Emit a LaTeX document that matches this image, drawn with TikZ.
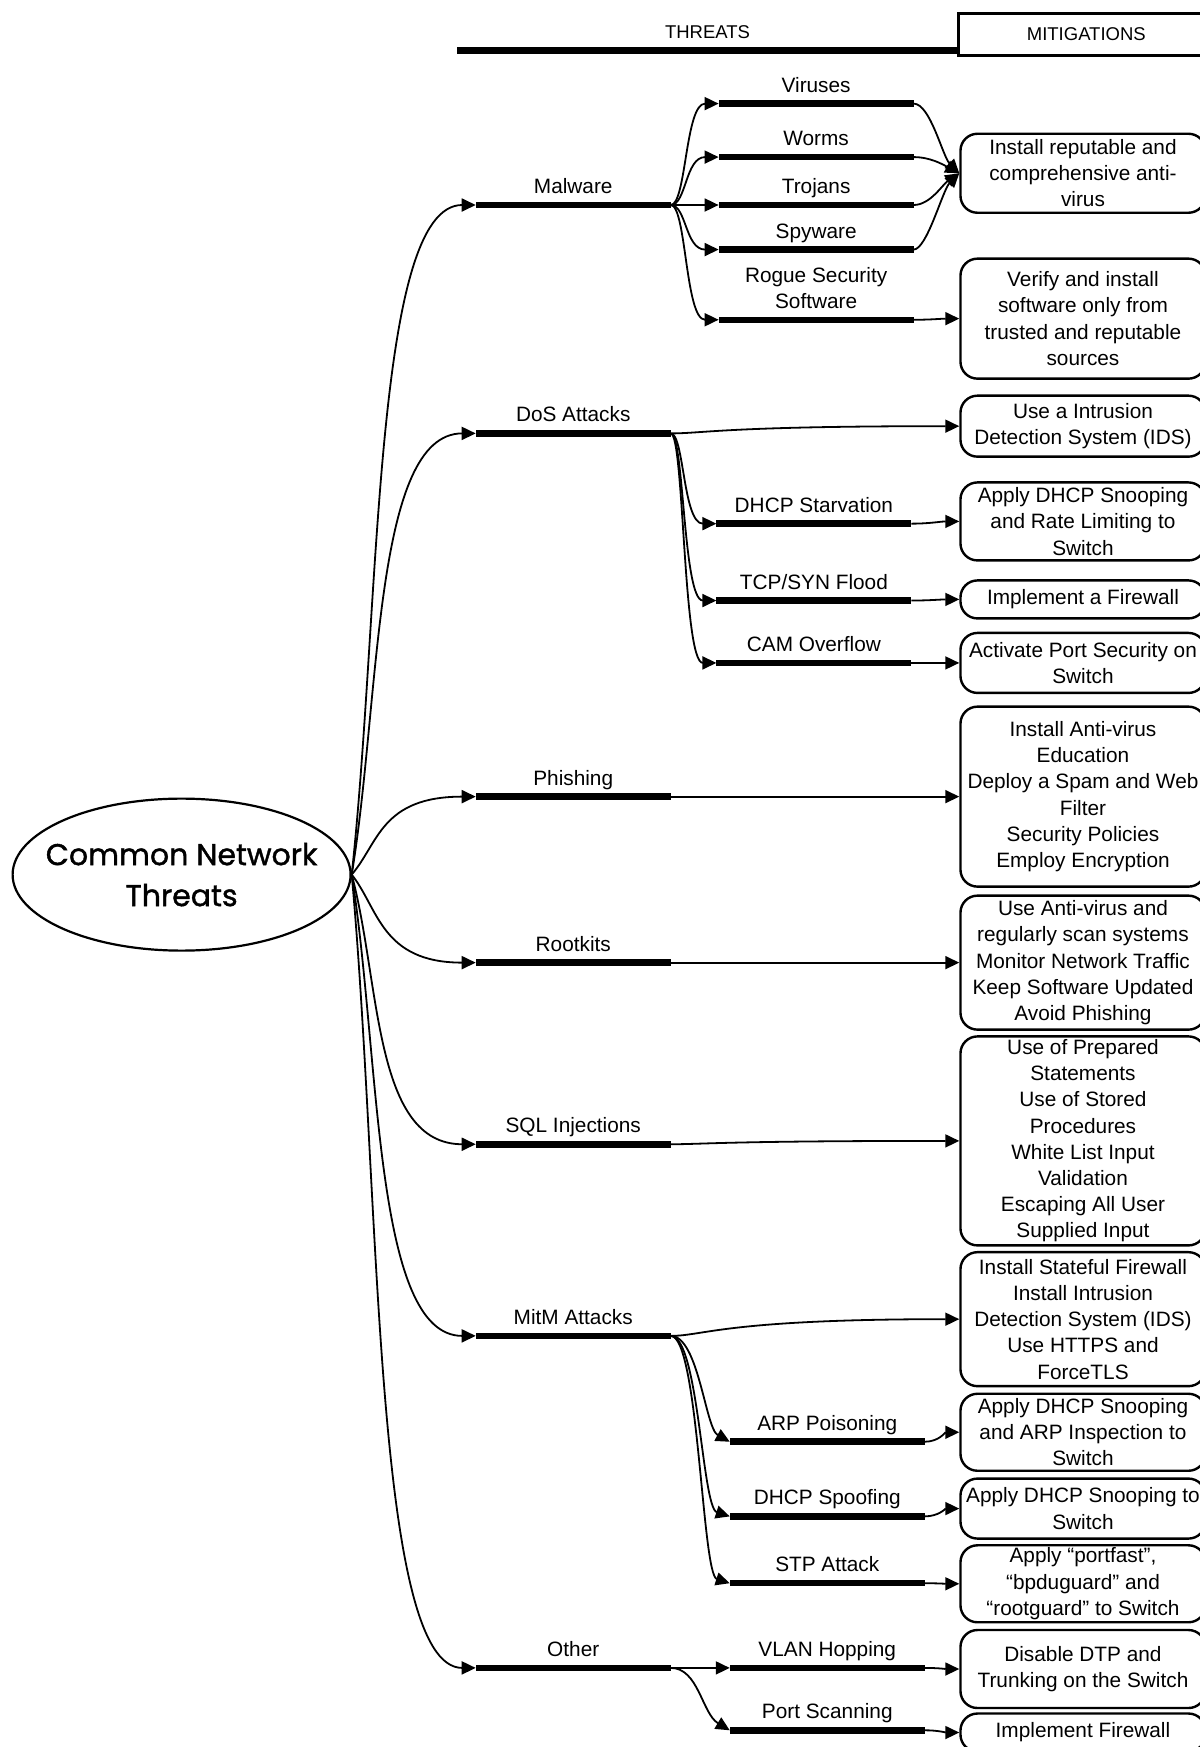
\documentclass[tikz,border=0pt]{standalone}
\usepackage{fontspec}
\setmainfont{Liberation Sans}
\newfontfamily\titlefont{Poppins}[FakeBold=1.3]
\usetikzlibrary{arrows.meta,shapes.geometric}

\tikzset{
  bar/.style={fill=black, draw=none, inner sep=0pt, outer sep=0pt,
    minimum height=6.5pt, minimum width=195pt},
  hbar/.style={bar, minimum height=7pt, minimum width=501pt},
  lbl/.style={inner sep=0pt, text depth=5pt, align=center, label distance=3pt,
    font=\fontsize{20.8pt}{25.6pt}\selectfont},
  hlbl/.style={lbl, label distance=2.5pt, font=\fontsize{18.5pt}{22pt}\selectfont},
  hbox/.style={draw, line width=2.4pt, minimum width=256pt, minimum height=42pt,
    inner sep=0pt, font=\fontsize{18.5pt}{22pt}\selectfont},
  mit/.style={draw, rounded corners=17pt, line width=2.4pt, minimum width=245pt,
    inner xsep=2pt, inner ysep=1pt, align=center,
    font=\fontsize{20.8pt}{26.2pt}\selectfont},
  rootnode/.style={ellipse, draw, line width=2.2pt, minimum width=338pt,
    minimum height=152pt, inner sep=0pt},
  rootlbl/.style={inner sep=0pt, align=center,
    font=\titlefont\fontsize{30pt}{41pt}\selectfont},
  link/.style={line width=1.8pt, -{Triangle[length=14pt,width=13pt]}},
}

\begin{document}
\begin{tikzpicture}[x=1.1142pt, y=-1.1142pt]
\path[use as bounding box] (0,0) rectangle (1077,1568);
\fill[white] (0,0) rectangle (1077,1568);
\clip (0,0) rectangle (1077,1568);

% central topic
\node[rootnode, label={[rootlbl]center:{Common Network\\Threats}}] (root) at (163,785) {};

% column headings
\node[hbar, label={[hlbl]above:THREATS}] (thr) at (635,45) {};
\node[hbox] (mith) at (975,31) {MITIGATIONS};

% main threat categories
\node[bar, label={[lbl]above:Malware}]        (malware)  at (514.5,184)  {};
\node[bar, label={[lbl]above:DoS Attacks}]    (dos)      at (514.5,389)  {};
\node[bar, label={[lbl]above:Phishing}]       (phishing) at (514.5,715)  {};
\node[bar, label={[lbl]above:Rootkits}]       (rootkits) at (514.5,864)  {};
\node[bar, label={[lbl]above:SQL Injections}] (sql)      at (514.5,1027) {};
\node[bar, label={[lbl]above:MitM Attacks}]   (mitm)     at (514.5,1199) {};
\node[bar, label={[lbl]above:Other}]          (other)    at (514.5,1497) {};

% malware types
\node[bar, label={[lbl]above:Viruses}] (viruses) at (732.5,93)  {};
\node[bar, label={[lbl]above:Worms}]   (worms)   at (732.5,141) {};
\node[bar, label={[lbl]above:Trojans}] (trojans) at (732.5,184) {};
\node[bar, label={[lbl]above:Spyware}] (spyware) at (732.5,224) {};
\node[bar, label={[lbl]above:{Rogue Security\\Software}}] (rogue) at (732.5,287) {};

% denial of service types
\node[bar, label={[lbl]above:DHCP Starvation}] (dhcpst) at (730.5,470) {};
\node[bar, label={[lbl]above:TCP/SYN Flood}]   (tcpsyn) at (730.5,539) {};
\node[bar, label={[lbl]above:CAM Overflow}]    (camof)  at (730.5,595) {};

% man-in-the-middle types
\node[bar, label={[lbl]above:ARP Poisoning}] (arp)    at (742.5,1294) {};
\node[bar, label={[lbl]above:DHCP Spoofing}] (dhcpsp) at (742.5,1361) {};
\node[bar, label={[lbl]above:STP Attack}]    (stp)    at (742.5,1421) {};

% other threats
\node[bar, label={[lbl]above:VLAN Hopping}]  (vlan)     at (742.5,1497) {};
\node[bar, label={[lbl]above:Port Scanning}] (portscan) at (742.5,1553) {};

% mitigations
\node[mit, minimum height=79pt]  (mav)     at (972,155.5) {Install reputable and\\comprehensive anti-\\virus};
\node[mit, minimum height=120pt] (mverify) at (972,286)   {Verify and install\\software only from\\trusted and reputable\\sources};
\node[mit, minimum height=61pt]  (mids)    at (972,382.5) {Use a Intrusion\\Detection System (IDS)};
\node[mit, minimum height=78pt]  (mdhcp)   at (972,468)   {Apply DHCP Snooping\\and Rate Limiting to\\Switch};
\node[mit, minimum height=38pt]  (mfw)     at (972,538)   {Implement a Firewall};
\node[mit, minimum height=60pt]  (mport)   at (972,595)   {Activate Port Security on\\Switch};
\node[mit, minimum height=180pt] (mphish)  at (972,715)   {Install Anti-virus\\Education\\Deploy a Spam and Web\\Filter\\Security Policies\\Employ Encryption};
\node[mit, minimum height=134pt] (mroot)   at (972,864)   {Use Anti-virus and\\regularly scan systems\\Monitor Network Traffic\\Keep Software Updated\\Avoid Phishing};
\node[mit, minimum height=209pt] (msql)    at (972,1024)  {Use of Prepared\\Statements\\Use of Stored\\Procedures\\White List Input\\Validation\\Escaping All User\\Supplied Input};
\node[mit, minimum height=134pt] (mmitm)   at (972,1184)  {Install Stateful Firewall\\Install Intrusion\\Detection System (IDS)\\Use HTTPS and\\ForceTLS};
\node[mit, minimum height=77pt]  (marp)    at (972,1285.5) {Apply DHCP Snooping\\and ARP Inspection to\\Switch};
\node[mit, minimum height=60pt]  (mspoof)  at (972,1354)  {Apply DHCP Snooping to\\Switch};
\node[mit, minimum height=77pt]  (mstp)    at (972,1421.5) {Apply “portfast”,\\“bpduguard” and\\“rootguard” to Switch};
\node[mit, minimum height=78pt]  (mdtp)    at (972,1498)  {Disable DTP and\\Trunking on the Switch};
\node[mit, minimum height=38pt]  (mimpl)   at (972,1555)  {Implement Firewall};

% root to categories
\draw[link] (root.east) .. controls +(26,-240) and +(-92,0) .. (malware.west);
\draw[link] (root.east) .. controls +(26,-158) and +(-92,0) .. (dos.west);
\draw[link] (root.east) .. controls +(24,-28)  and +(-85,0) .. (phishing.west);
\draw[link] (root.east) .. controls +(24,30)   and +(-85,0) .. (rootkits.west);
\draw[link] (root.east) .. controls +(26,97)   and +(-92,0) .. (sql.west);
\draw[link] (root.east) .. controls +(26,165)  and +(-92,0) .. (mitm.west);
\draw[link] (root.east) .. controls +(26,285)  and +(-92,0) .. (other.west);

% malware branch
\draw[link] (malware.east) .. controls +(14,0) and +(-30,0) .. (viruses.west);
\draw[link] (malware.east) .. controls +(14,0) and +(-30,0) .. (worms.west);
\draw[link] (malware.east) -- (trojans.west);
\draw[link] (malware.east) .. controls +(14,0) and +(-30,0) .. (spyware.west);
\draw[link] (malware.east) .. controls +(14,0) and +(-30,0) .. (rogue.west);
\draw[link] (viruses.east) .. controls +(15,0) and +(-15,-15) .. (mav.west);
\draw[link] (worms.east)   .. controls +(15,0) and +(-15,-8)  .. (mav.west);
\draw[link] (trojans.east) .. controls +(15,0) and +(-15,10)  .. (mav.west);
\draw[link] (spyware.east) .. controls +(12,0) and +(-15,15)  .. (mav.west);
\draw[link] (rogue.east) to[out=0,in=180] (mverify.west);

% denial of service branch
\draw[link] (dos.east) .. controls +(30,0) and +(-210,0) .. (mids.west);
\draw[link] (dos.east) .. controls +(12,0) and +(-30,0) .. (dhcpst.west);
\draw[link] (dos.east) .. controls +(12,0) and +(-30,0) .. (tcpsyn.west);
\draw[link] (dos.east) .. controls +(12,0) and +(-30,0) .. (camof.west);
\draw[link] (dhcpst.east) to[out=0,in=180] (mdhcp.west);
\draw[link] (tcpsyn.east) to[out=0,in=180] (mfw.west);
\draw[link] (camof.east)  to[out=0,in=180] (mport.west);

% single-mitigation categories
\draw[link] (phishing.east) -- (mphish.west);
\draw[link] (rootkits.east) .. controls +(30,0) and +(-210,0) .. (mroot.west);
\draw[link] (sql.east) .. controls +(30,0) and +(-210,0) .. (msql.west);

% man-in-the-middle branch
\draw[link] (mitm.east) .. controls +(30,0) and +(-210,0) .. (mmitm.west);
\draw[link] (mitm.east) .. controls +(25,0) and +(-22,-12) .. (arp.west);
\draw[link] (mitm.east) .. controls +(25,0) and +(-25,-8) .. (dhcpsp.west);
\draw[link] (mitm.east) .. controls +(25,0) and +(-25,-8) .. (stp.west);
\draw[link] (arp.east)    to[out=0,in=180] (marp.west);
\draw[link] (dhcpsp.east) to[out=0,in=180] (mspoof.west);
\draw[link] (stp.east)    to[out=0,in=180] (mstp.west);

% other branch
\draw[link] (other.east) -- (vlan.west);
\draw[link] (other.east) .. controls +(25,0) and +(-25,-15) .. (portscan.west);
\draw[link] (vlan.east)     to[out=0,in=180] (mdtp.west);
\draw[link] (portscan.east) to[out=0,in=180] (mimpl.west);
\end{tikzpicture}
\end{document}
